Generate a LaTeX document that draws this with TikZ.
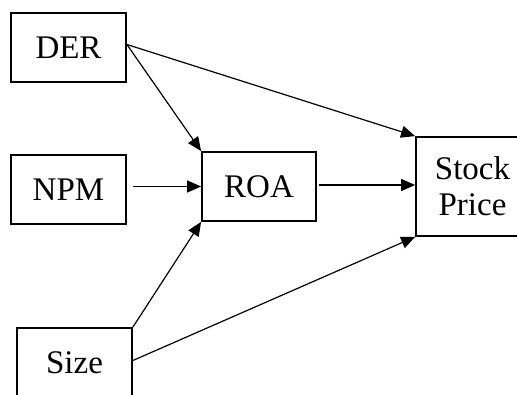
\documentclass[tikz,border=0pt]{standalone}
\usepackage{fontspec}
\setmainfont{Liberation Serif}
\usetikzlibrary{arrows.meta}

\begin{document}
\begin{tikzpicture}[x=1pt,y=-1pt,
  box/.style={draw,line width=1.8pt,inner sep=0pt,align=center,
    font=\fontsize{33}{36}\selectfont},
  link/.style={line width=1.2pt,-{Triangle[length=14pt,width=12pt]}}]
  \useasboundingbox (0,0) rectangle (517,395);
  \clip (0,0) rectangle (517,395);

  \node[box,minimum width=115pt,minimum height=69pt] (der)   at (68.5,47.5)  {DER};
  \node[box,minimum width=115pt,minimum height=69pt] (npm)   at (68.5,189.5) {NPM};
  \node[box,minimum width=114pt,minimum height=69pt] (roa)   at (259,186.5)  {ROA};
  \node[box,minimum width=113pt,minimum height=99pt] (stock) at (472.5,186.5) {Stock\\Price};
  \node[box,minimum width=115pt,minimum height=69pt] (size)  at (74.5,362.5) {Size};

  \coordinate (npmout) at ([xshift=6pt,yshift=3pt]npm.east);
  \coordinate (roaout) at ([xshift=2pt,yshift=1.5pt]roa.east);

  \draw[link] ([yshift=3pt]der.east) -- (roa.north west);
  \draw[link] ([yshift=3pt]der.east) -- (stock.north west);
  \draw[link] (npmout) -- (npmout -| roa.west);
  \draw[link] (roaout) -- (roaout -| stock.west);
  \draw[link] (size.north east) -- (roa.south west);
  \draw[link] ([yshift=2pt]size.east) -- (stock.south west);
\end{tikzpicture}
\end{document}
